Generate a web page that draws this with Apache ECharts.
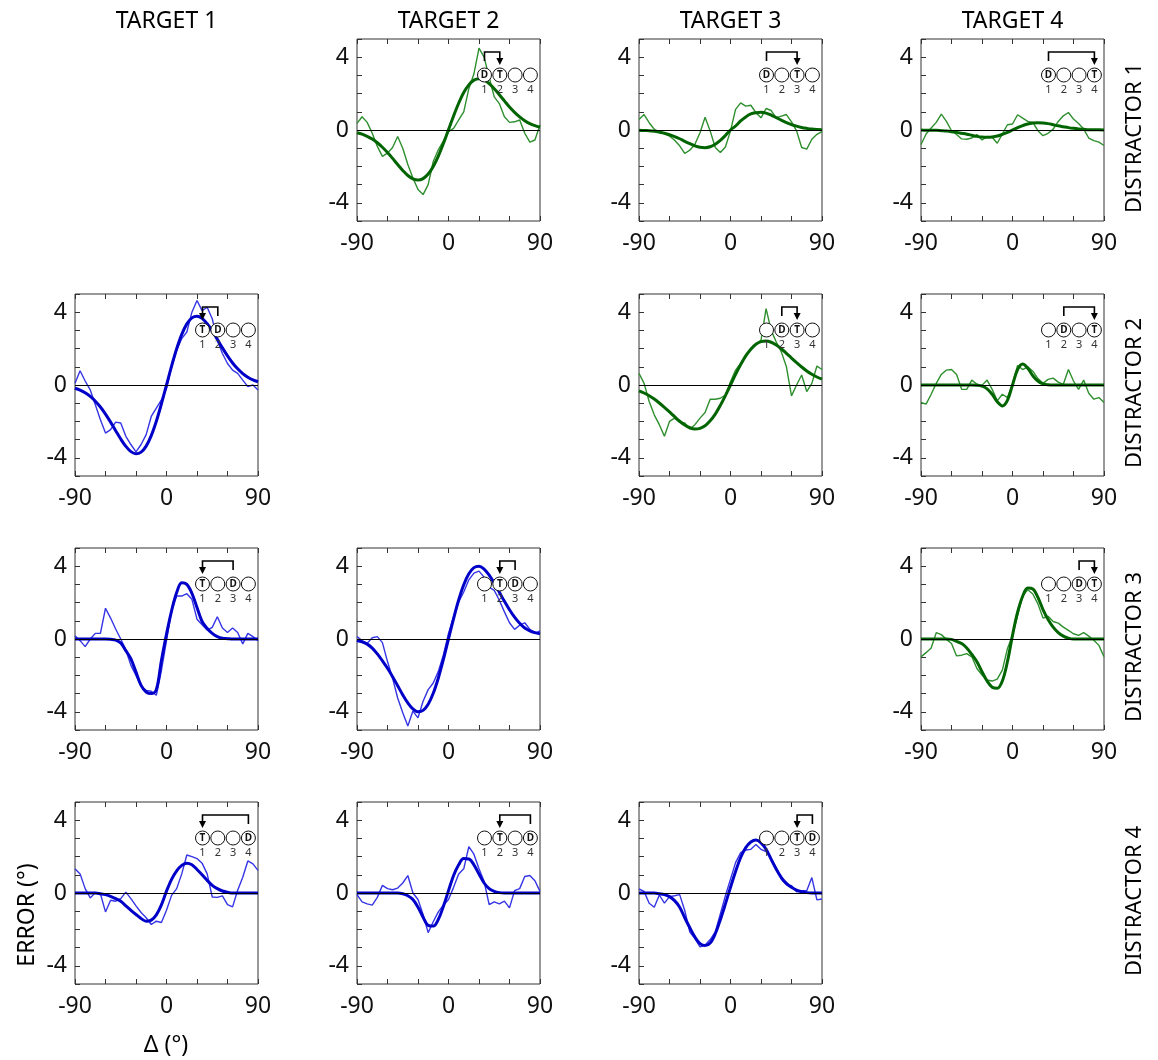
<!DOCTYPE html>
<html><head><meta charset="utf-8">
<script src="https://cdn.jsdelivr.net/npm/echarts@6/dist/echarts.min.js"></script>
<style>html,body{margin:0;padding:0;background:#fff}#c{width:1158px;height:1060px}</style>
</head><body><div id="c"></div>
<script>
// ---------- data ----------
const xs = [-90,-85,-80,-75,-70,-65,-60,-55,-50,-45,-40,-35,-30,-25,-20,-15,-10,-5,0,5,10,15,20,25,30,35,40,45,50,55,60,65,70,75,80,85,90];
const targets = ['TARGET 1','TARGET 2','TARGET 3','TARGET 4'];
const distractors = ['DISTRACTOR 1','DISTRACTOR 2','DISTRACTOR 3','DISTRACTOR 4'];
const xTickLabels = [-90, 0, 90];
const yTickLabels = [-4, 0, 4];
const xAxisName = 'Δ (°)';
const yAxisName = 'ERROR (°)';

// distractor 1 row
const noisy_t2_d1 = [0.36,0.73,0.42,-0.18,-0.9,-1.45,-1.27,-0.96,-0.36,-1.0,-1.9,-2.64,-3.27,-3.55,-3.0,-1.73,-1.09,-0.6,-0.09,0.09,0.55,1.0,2.27,3.09,4.5,4.0,2.9,1.82,1.45,0.73,0.42,0.45,0.55,-0.18,-0.67,-0.55,0.27];
const fit_t2_d1   = [-0.15,-0.23,-0.35,-0.5,-0.7,-0.95,-1.24,-1.56,-1.9,-2.22,-2.5,-2.68,-2.75,-2.67,-2.42,-2.0,-1.43,-0.74,0.02,0.77,1.47,2.06,2.48,2.74,2.82,2.75,2.55,2.27,1.94,1.6,1.26,0.97,0.72,0.51,0.35,0.24,0.16];
const noisy_t3_d1 = [0.58,0.85,0.4,0.04,-0.09,-0.2,-0.33,-0.56,-0.87,-1.29,-1.11,-0.78,-0.15,0.7,-0.05,-0.96,-1.24,-0.93,-0.05,1.13,1.49,1.31,1.36,0.95,0.67,1.18,1.07,0.67,0.76,0.85,0.45,-0.05,-0.96,-1.05,-0.51,-0.24,-0.09];
const fit_t3_d1   = [-0.01,-0.03,-0.04,-0.07,-0.12,-0.18,-0.26,-0.36,-0.48,-0.62,-0.75,-0.87,-0.95,-0.97,-0.92,-0.78,-0.57,-0.3,0,0.22,0.5,0.72,0.88,0.95,0.98,0.93,0.82,0.68,0.54,0.41,0.3,0.21,0.14,0.09,0.05,0.03,0.02];
const noisy_t4_d1 = [-0.8,-0.22,0.11,0.42,0.87,0.47,-0.04,-0.25,-0.49,-0.51,-0.44,-0.25,-0.55,-0.36,-0.4,-0.73,-0.22,0.29,0.33,0.84,0.65,0.47,0.42,-0.04,-0.31,-0.18,0.05,0.47,0.78,0.96,0.6,0.36,0.05,-0.44,-0.58,-0.67,-0.85];
const fit_t4_d1   = [0,-0.01,-0.01,-0.02,-0.04,-0.06,-0.09,-0.13,-0.18,-0.23,-0.29,-0.35,-0.39,-0.4,-0.38,-0.33,-0.24,-0.13,0,0.13,0.24,0.33,0.38,0.4,0.39,0.35,0.29,0.23,0.18,0.13,0.09,0.06,0.04,0.02,0.01,0.01,0];
// distractor 2 row
const noisy_t1_d2 = [0.09,0.78,0.22,-0.27,-1.09,-1.91,-2.64,-2.45,-2.04,-2.09,-2.82,-3.27,-3.67,-3.27,-2.73,-1.73,-1.27,-0.82,-0.18,1.0,1.91,2.55,2.91,4.0,4.64,4.09,4.27,3.64,2.45,1.73,1.18,0.82,0.64,0.27,-0.09,0,-0.27];
const fit_t1_d2   = [-0.18,-0.28,-0.43,-0.63,-0.89,-1.21,-1.6,-2.04,-2.51,-2.97,-3.37,-3.66,-3.78,-3.69,-3.36,-2.78,-1.99,-1.04,0,1.04,1.99,2.78,3.36,3.69,3.78,3.66,3.37,2.97,2.51,2.04,1.6,1.21,0.89,0.63,0.43,0.28,0.18];
const noisy_t3_d2 = [0.64,0.09,-0.91,-1.64,-2.18,-2.82,-2.0,-1.82,-2.05,-2.09,-2.42,-2.18,-1.82,-1.51,-0.78,-0.78,-0.73,-0.55,0.18,0.82,1.18,1.58,2.0,2.24,2.45,4.2,3.0,2.36,1.82,1.0,-0.6,0,0.55,-0.36,0.09,1.04,0.85];
const fit_t3_d2   = [-0.32,-0.44,-0.59,-0.77,-0.99,-1.23,-1.48,-1.74,-1.99,-2.2,-2.35,-2.42,-2.38,-2.24,-1.97,-1.6,-1.12,-0.58,0,0.58,1.12,1.6,1.97,2.24,2.38,2.42,2.35,2.2,1.99,1.74,1.48,1.23,0.99,0.77,0.59,0.44,0.32];
const noisy_t4_d2 = [-0.96,-1.05,-0.51,0.09,0.58,0.82,0.85,0.58,-0.24,-0.24,0.27,0.04,-0.02,0.27,-0.24,-0.87,-0.51,-0.69,0.04,1.07,0.85,1.0,0.76,0.35,0.09,0.31,0.38,0.16,0.04,0.85,0.22,-0.24,0.27,-0.45,-0.78,-0.69,-0.96];
const fit_t4_d2   = [0,0,0,0,0,0,0,0,0,0,0,-0.01,-0.06,-0.21,-0.51,-0.92,-1.15,-0.84,0,0.84,1.15,0.92,0.51,0.21,0.06,0.01,0,0,0,0,0,0,0,0,0,0,0];
// distractor 3 row
const noisy_t1_d3 = [0.18,-0.09,-0.42,0,0.31,0.31,1.69,1.15,0.55,0,-0.6,-1.45,-2.0,-2.6,-2.82,-2.87,-3.09,-1.73,-0.09,1.55,2.36,2.36,2.49,2.18,1.09,0.78,0.49,0.64,1.22,0.6,0.36,0.6,0.36,-0.27,0.31,0.13,-0.09];
const fit_t1_d3   = [0,0,0,0,0,0,0,-0.02,-0.06,-0.22,-0.64,-1.09,-1.82,-2.55,-2.91,-3.0,-2.78,-1.18,0.27,1.55,2.55,3.09,3.0,2.51,1.73,0.96,0.58,0.31,0.13,0.04,0.02,0,0,0,0,0,0];
const noisy_t2_d3 = [0.13,-0.09,-0.24,0.07,0.13,-0.2,-1.24,-2.15,-3.24,-4.05,-4.78,-3.96,-4.33,-3.42,-2.78,-2.42,-1.78,-0.87,0.31,1.22,2.04,2.58,3.25,3.62,3.73,3.4,2.85,2.67,2.13,1.49,0.89,0.53,0.76,0.89,0.53,0.31,0.45];
const fit_t2_d3   = [-0.08,-0.16,-0.28,-0.5,-0.82,-1.2,-1.61,-2.07,-2.57,-3.07,-3.51,-3.84,-4.0,-3.92,-3.58,-2.98,-2.14,-1.12,0,1.12,2.14,2.98,3.58,3.92,4.0,3.84,3.51,3.07,2.57,2.07,1.61,1.2,0.86,0.6,0.45,0.35,0.28];
const noisy_t4_d3 = [-0.98,-0.75,-0.49,0.35,0.24,-0.02,-0.25,-0.93,-0.89,-0.8,-0.98,-1.62,-1.98,-2.25,-2.31,-2.2,-1.71,-0.53,0.2,1.29,2.38,2.71,2.47,1.93,1.15,1.25,0.96,0.87,0.65,0.47,0.29,0.2,0.35,0.16,-0.07,-0.35,-0.98];
const fit_t4_d3   = [0,0,0,0,0,0,-0.02,-0.13,-0.25,-0.49,-0.85,-1.25,-1.8,-2.31,-2.65,-2.71,-2.31,-1.25,0.2,1.47,2.35,2.8,2.75,2.29,1.62,1.07,0.65,0.35,0.16,0.05,0,0,0,0,0,0,0];
// distractor 4 row
const noisy_t1_d4 = [1.33,1.05,0.24,-0.27,0.02,-0.04,-1.04,-0.4,-0.45,-0.31,0.05,-0.31,-0.71,-1.07,-1.36,-1.73,-1.55,-1.62,-0.95,-0.13,0.24,1.05,2.09,2.0,1.89,1.64,1.05,-0.22,-0.24,-0.16,-0.64,-0.76,0.15,0.87,1.76,1.6,1.24];
const fit_t1_d4   = [0,0,0,0,0,-0.04,-0.09,-0.18,-0.31,-0.45,-0.71,-0.95,-1.18,-1.4,-1.55,-1.49,-1.2,-0.65,0.1,0.75,1.22,1.52,1.64,1.55,1.29,1.0,0.69,0.42,0.24,0.11,0.04,0,0,0,0,0,0];
const noisy_t2_d4 = [-0.09,-0.49,-0.6,-0.67,-0.24,0.42,0.24,0.18,0.27,0.55,0.96,0,-0.36,-1.18,-2.18,-1.58,-1.04,-0.67,-0.36,0.31,1.04,1.33,2.55,2.13,1.33,0.64,-0.64,-0.49,-0.6,-0.45,-0.82,0.13,0.24,0.91,0.96,0.67,0.09];
const fit_t2_d4   = [0,0,0,0,0,0,0,0,0,-0.04,-0.15,-0.36,-0.78,-1.33,-1.78,-1.82,-1.45,-0.73,0.13,0.96,1.55,1.89,1.87,1.55,1.04,0.55,0.24,0.09,0.02,0,0,0,0,0,0,0,0];
const noisy_t3_d4 = [0.22,0.09,-0.56,-0.78,-0.11,-0.56,-0.2,-0.15,-0.09,-0.96,-2.15,-2.51,-2.96,-2.87,-2.56,-2.15,-1.15,-0.15,0.76,1.67,2.22,2.36,2.4,2.67,2.4,2.27,1.91,1.4,0.76,0.45,0.4,0.07,0.13,0.13,0.85,-0.38,-0.33];
const fit_t3_d4   = [0,0,0,0,-0.04,-0.09,-0.2,-0.42,-0.78,-1.36,-1.91,-2.42,-2.78,-2.89,-2.75,-2.24,-1.47,-0.6,0.31,1.18,1.95,2.49,2.8,2.91,2.76,2.4,1.85,1.31,0.85,0.53,0.31,0.16,0.07,0.02,0,0,0];

const panels = [
  {t:2,d:1,noisy:noisy_t2_d1,fit:fit_t2_d1},
  {t:3,d:1,noisy:noisy_t3_d1,fit:fit_t3_d1},
  {t:4,d:1,noisy:noisy_t4_d1,fit:fit_t4_d1},
  {t:1,d:2,noisy:noisy_t1_d2,fit:fit_t1_d2},
  {t:3,d:2,noisy:noisy_t3_d2,fit:fit_t3_d2},
  {t:4,d:2,noisy:noisy_t4_d2,fit:fit_t4_d2},
  {t:1,d:3,noisy:noisy_t1_d3,fit:fit_t1_d3},
  {t:2,d:3,noisy:noisy_t2_d3,fit:fit_t2_d3},
  {t:4,d:3,noisy:noisy_t4_d3,fit:fit_t4_d3},
  {t:1,d:4,noisy:noisy_t1_d4,fit:fit_t1_d4},
  {t:2,d:4,noisy:noisy_t2_d4,fit:fit_t2_d4},
  {t:3,d:4,noisy:noisy_t3_d4,fit:fit_t3_d4}
];

// ---------- layout / style ----------
const FONT = '"Noto Sans", "Open Sans", sans-serif';
const colLeft = [75, 357, 639, 921];
const rowTop = [39, 294, 548, 802];
const W = 183, H = 182;
const COL = {
  blue:  {thin:'#3535e6', thick:'#0000c8'},
  green: {thin:'#2e8f2e', thick:'#006400'}
};

const grid = [], xAxis = [], yAxis = [], series = [], graphic = [];

function txt(x, y, text, size, extra) {
  return Object.assign({
    type:'text', x:x, y:y, silent:true,
    style:{text:text, fontSize:size, fontFamily:FONT, fill:'#000',
      align:'center', verticalAlign:'middle', textAlign:'center', textVerticalAlign:'middle'}
  }, extra || {});
}

panels.forEach(function (p, k) {
  const left = colLeft[p.t - 1], top = rowTop[p.d - 1];
  const c = p.t < p.d ? COL.blue : COL.green;
  grid.push({left:left, top:top, width:W, height:H, show:true, borderColor:'#333', borderWidth:1, backgroundColor:'transparent'});
  const tick = {show:true, inside:true, length:5, lineStyle:{color:'#333', width:1}};
  const line = {show:false, onZero:false};
  xAxis.push({type:'value', gridIndex:k, min:-90, max:90, interval:30, position:'bottom',
    axisLine:line, axisTick:tick, splitLine:{show:false},
    axisLabel:{fontSize:23, fontFamily:FONT, color:'#111', margin:11, showMinLabel:true, showMaxLabel:true,
      formatter:function (v) { return xTickLabels.indexOf(v) >= 0 ? String(v) : ''; }}});
  xAxis.push({type:'value', gridIndex:k, min:-90, max:90, interval:30, position:'top',
    axisLine:line, axisTick:tick, splitLine:{show:false}, axisLabel:{show:false}});
  yAxis.push({type:'value', gridIndex:k, min:-5, max:5, interval:1, position:'left',
    axisLine:line, axisTick:tick, splitLine:{show:false},
    axisLabel:{fontSize:23, fontFamily:FONT, color:'#111', margin:8, showMinLabel:true, showMaxLabel:true,
      formatter:function (v) { return yTickLabels.indexOf(v) >= 0 ? String(v) : ''; }}});
  series.push({type:'line', xAxisIndex:2 * k, yAxisIndex:k, data:xs.map(function (x, i) { return [x, p.noisy[i]]; }),
    showSymbol:false, symbol:'none', lineStyle:{width:1.4, color:c.thin}, z:2, silent:true,
    markLine:{silent:true, symbol:'none', label:{show:false}, lineStyle:{color:'#000', width:1, type:'solid'}, data:[{yAxis:0}]}});
  series.push({type:'line', xAxisIndex:2 * k, yAxisIndex:k, data:xs.map(function (x, i) { return [x, p.fit[i]]; }),
    showSymbol:false, symbol:'none', smooth:0.35, lineStyle:{width:3, color:c.thick}, z:3, silent:true});

  // schematic icon: 4 stimuli, D and T positions, arrow D -> T
  const cy = top + 36;
  const cxs = [0, 1, 2, 3].map(function (i) { return left + 127.5 + 15.3 * i; });
  cxs.forEach(function (cx, i) {
    graphic.push({type:'circle', shape:{cx:cx, cy:cy, r:7}, style:{fill:'#fff', stroke:'#111', lineWidth:1}, z:10, silent:true});
    const lab = (i === p.t - 1) ? 'T' : (i === p.d - 1) ? 'D' : '';
    if (lab) graphic.push(txt(cx, cy + 0.5, lab, 10, {z:11, style:{text:lab, fontSize:10, fontWeight:'bold', fontFamily:FONT, fill:'#111', align:'center', verticalAlign:'middle', textAlign:'center', textVerticalAlign:'middle'}}));
    graphic.push(txt(cx, cy + 15, String(i + 1), 11, {z:11, style:{text:String(i + 1), fontSize:11, fontFamily:FONT, fill:'#333', align:'center', verticalAlign:'middle', textAlign:'center', textVerticalAlign:'middle'}}));
  });
  const sx = cxs[p.d - 1], tx = cxs[p.t - 1], yt = cy - 23;
  graphic.push({type:'polyline', shape:{points:[[sx, cy - 14], [sx, yt], [tx, yt], [tx, cy - 16]]}, style:{stroke:'#000', lineWidth:1.6, fill:null}, z:12, silent:true});
  graphic.push({type:'polygon', shape:{points:[[tx - 3.5, cy - 17], [tx + 3.5, cy - 17], [tx, cy - 10]]}, style:{fill:'#000'}, z:12, silent:true});
});

// headers & labels
targets.forEach(function (t, i) { graphic.push(txt(colLeft[i] + W / 2, 21, t, 23)); });
distractors.forEach(function (d, i) { graphic.push(txt(1135, rowTop[i] + H / 2 + 8, d, 22, {rotation:Math.PI / 2})); });
graphic.push(txt(27, 915, yAxisName, 23, {rotation:Math.PI / 2}));
graphic.push(txt(166, 1045, xAxisName, 23));

const chart = echarts.init(document.getElementById('c'), null, {renderer:'canvas'});
chart.setOption({animation:false, backgroundColor:'#fff', grid:grid, xAxis:xAxis, yAxis:yAxis, series:series, graphic:graphic});
</script></body></html>
